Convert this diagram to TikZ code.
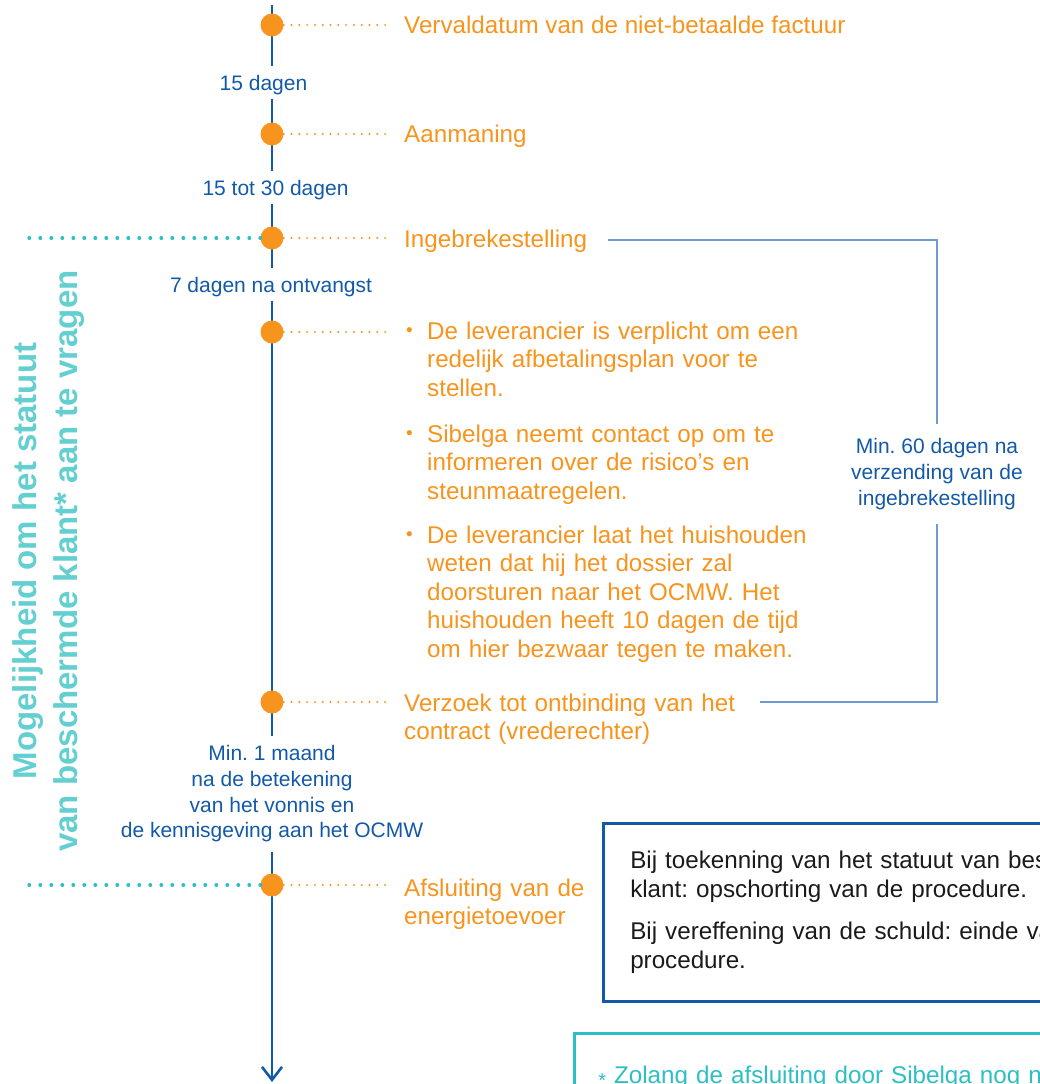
\documentclass[tikz,border=0pt]{standalone}
\usepackage{fontspec}
\setmainfont{Liberation Sans}
\usepackage{tikz}
\usetikzlibrary{arrows.meta,calc}
\definecolor{orng}{HTML}{F7941D}
\definecolor{tlblue}{HTML}{1259A8}
\definecolor{brblue}{HTML}{6E9CD2}
\definecolor{tealdot}{HTML}{2CBFC3}
\definecolor{tealtxt}{HTML}{63CFD0}
\definecolor{inktxt}{HTML}{1A1A1A}
\frenchspacing
\newcommand{\obul}{\llap{\raisebox{2.5pt}{\fontsize{19}{19}\selectfont\textbullet}\hspace{14.5pt}}}
\tikzset{
  tl_line/.style = {draw=tlblue, line width=2.6pt},
  tl_dot/.style = {circle, fill=orng, minimum size=23pt, inner sep=0pt},
  odots/.style = {draw=orng, line width=2.2pt, line cap=round, dash pattern=on 0pt off 7.8pt},
  tdots/.style = {draw=tealdot, line width=4pt, line cap=round, dash pattern=on 0pt off 11pt},
  evt/.style = {anchor=base west, inner sep=0pt, text=orng, align=left, font=\fontsize{24.2}{28.5}\selectfont},
  gap_lbl/.style = {anchor=base, inner xsep=2pt, inner ysep=8.5pt, text height=15pt, text depth=0pt, text=tlblue, font=\fontsize{21}{26}\selectfont},
  gap_long/.style = {align=center, inner ysep=9pt, text=tlblue, font=\fontsize{21}{25.7}\selectfont},
  brk/.style = {draw=brblue, line width=2pt},
  brk_lbl/.style = {align=center, inner xsep=0pt, inner ysep=14pt, text=tlblue, font=\fontsize{21}{26}\selectfont},
  note/.style = {anchor=north west, draw=tlblue, line width=2.5pt, inner xsep=27pt, inner ysep=28pt, text width=520pt, align=left, text=inktxt, font=\fontsize{24.2}{28.5}\selectfont}
}

\begin{document}
\begin{tikzpicture}[x=1pt,y=-1pt]
	\useasboundingbox (0,0) rectangle (1040,1084);
	\clip (0,0) rectangle (1040,1084);
	\tikzstyle{fnote}=[anchor=north west, draw=tealdot, line width=2.5pt, inner xsep=24pt, inner ysep=32.5pt, text width=540pt, align=left, text=tealdot, font=\fontsize{24.2}{28.5}\selectfont]

	% durations along the time line
	\coordinate (top) at (272,5);
	\coordinate (bot) at (272,1082);
	\node[gap_lbl] (l1) at (263.5,90) {15 dagen};
	\node[gap_lbl] (l2) at (275.5,195) {15 tot 30 dagen};
	\node[gap_lbl] (l3) at (271,292) {7 dagen na ontvangst};
	\node[gap_long] (l4) at (272,794) {Min. 1 maand\\na de betekening\\van het vonnis en\\de kennisgeving aan het OCMW};

	\foreach \a/\b in {top/l1,l1/l2,l2/l3,l3/l4}
		\draw[tl_line] (top |- \a.south) -- (top |- \b.north);
	\draw[tl_line, -{Straight Barb[length=13pt,width=20pt]}] (top |- l4.south) -- (bot);

	% steps
	\foreach \n/\y in {1/25,2/134,3/238,4/332,5/702,6/885}{
		\node[tl_dot] (d\n) at (272,\y) {};
		\coordinate (o\n) at (391,\y);
	}
	\foreach \n in {1,...,6}
		\draw[odots] (d\n) -- (o\n);

	\node[evt] (e1) at (404,33) {Vervaldatum van de niet-betaalde factuur};
	\node[evt] (e2) at (404,142) {Aanmaning};
	\node[evt] (e3) at (404,247) {Ingebrekestelling};
	\node[evt, text width=390pt] (e4a) at (427,339) {\obul De leverancier is verplicht om een\\redelijk afbetalingsplan voor te\\stellen.};
	\node[evt, text width=390pt] (e4b) at (427,442) {\obul Sibelga neemt contact op om te\\informeren over de risico's en\\steunmaatregelen.};
	\node[evt, text width=390pt] (e4c) at (427,543) {\obul De leverancier laat het huishouden\\weten dat hij het dossier zal\\doorsturen naar het OCMW. Het\\huishouden heeft 10 dagen de tijd\\om hier bezwaar tegen te maken.};
	\node[evt, text width=340pt] (e5) at (404,711) {Verzoek tot ontbinding van het\\contract (vrederechter)};
	\node[evt, text width=200pt] (e6) at (404,896) {Afsluiting van de\\energietoevoer};

	% protected customer window
	\coordinate (t3) at (20,238);
	\coordinate (t6) at (20,885);
	\draw[tdots] (d3) -- (t3);
	\draw[tdots] (d6) -- (t6);
	\node[rotate=90, align=center, inner sep=0pt, text=tealtxt, font=\bfseries\fontsize{33}{41}\selectfont] (rights) at (49,561) {Mogelijkheid om het statuut\\van beschermde klant* aan te vragen};

	% 60 days bracket
	\coordinate (b_top) at (608,240);
	\coordinate (b_bot) at (760,702);
	\node[brk_lbl] (mid) at (937,474) {Min. 60 dagen na\\verzending van de\\ingebrekestelling};
	\draw[brk] (b_top) -| (mid.north);
	\draw[brk] (b_bot) -| (mid.south);

	% notes
	\node[note] (n1) at (602,822) {Bij toekenning van het statuut van beschermde\\klant: opschorting van de procedure.\\[14pt]Bij vereffening van de schuld: einde van de\\procedure.};
	\node[fnote] (n2) at (573,1032) {{\fontsize{20}{20}\selectfont\raisebox{-4pt}{*}} Zolang de afsluiting door Sibelga nog niet};
\end{tikzpicture}
\end{document}
